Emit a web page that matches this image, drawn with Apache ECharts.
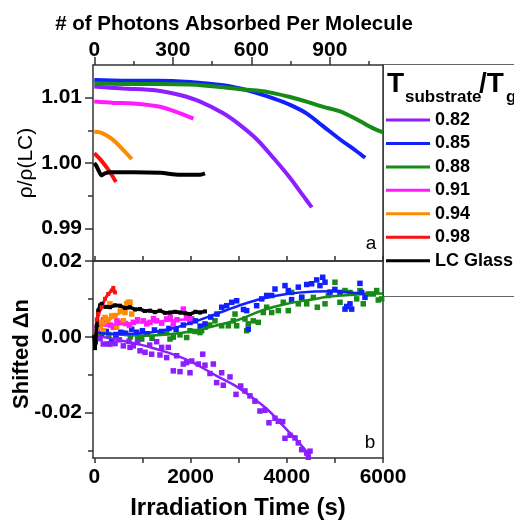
<!DOCTYPE html>
<html>
<head>
<meta charset="utf-8">
<script src="https://cdn.jsdelivr.net/npm/echarts@6/dist/echarts.min.js"></script>
<style>
  html, body { margin: 0; padding: 0; background: #fff; }
  #chart { width: 514px; height: 521px; }
</style>
</head>
<body>
<div id="chart"></div>
<script>
// legend names, one per substrate temperature
const names = ['0.82', '0.85', '0.88', '0.91', '0.94', '0.98', 'LC Glass']
const colors = ['#8c1eff', '#1020ff', '#178a17', '#ff1aff', '#ff8c00', '#ff1010', '#000000']

// tick values
const timeTicks = [0, 1000, 2000, 3000, 4000, 5000, 6000]
const timeLabels = [0, 2000, 4000, 6000]
const photonLabels = [0, 300, 600, 900]
const photonMinor = [150, 450, 750, 1050]
const rhoLabels = [0.99, 1.00, 1.01]
const rhoMinor = [0.995, 1.005]
const dnLabels = [-0.02, 0, 0.02]
const dnMinor = [-0.03, -0.01, 0.01]

// panel a: rho/rho(LC) vs irradiation time (s)
const rho082 = [[0, 1.0117], [600, 1.0114], [1300, 1.0111], [1780, 1.0104], [2200, 1.0094], [2680, 1.0076], [3030, 1.0058], [3380, 1.0036], [3720, 1.0008], [4070, 0.9977], [4340, 0.9950], [4520, 0.9932]]
const rho085 = [[0, 1.0127], [600, 1.0126], [1300, 1.0126], [1990, 1.0124], [2680, 1.0119], [3030, 1.0114], [3380, 1.0107], [3720, 1.0099], [4070, 1.0089], [4410, 1.0076], [4760, 1.0056], [5110, 1.0036], [5450, 1.0018], [5630, 1.0008]]
const rho088 = [[0, 1.0122], [600, 1.0121], [1300, 1.0121], [1990, 1.0120], [2680, 1.0116], [3030, 1.0113], [3380, 1.0111], [3720, 1.0107], [4070, 1.0101], [4410, 1.0094], [4760, 1.0086], [5110, 1.0079], [5450, 1.0067], [5800, 1.0053], [6000, 1.0047]]
const rho091 = [[0, 1.0094], [400, 1.0092], [810, 1.0091], [1370, 1.0086], [1780, 1.0076], [2060, 1.0068]]
const rho094 = [[0, 1.0048], [120, 1.0047], [260, 1.0042], [430, 1.0033], [600, 1.0020], [780, 1.0006]]
const rho098 = [[0, 1.0015], [120, 1.0006], [260, 0.9993], [360, 0.9982], [450, 0.9971]]
const rhoLC = [[0, 1.0000], [40, 0.9996], [80, 0.9990], [150, 0.9981], [220, 0.9984], [330, 0.9986], [810, 0.9986], [1370, 0.9985], [1780, 0.9982], [2200, 0.9982], [2300, 0.9984]]

// panel b: shifted delta n, measured points
const dn082 = [[120, -0.0005], [187, -0.0019], [291, -0.0019], [326, -0.0019], [430, -0.0018], [520, -0.0008], [603, -0.0024], [720, -0.0012], [742, -0.0028], [810, -0.0024], [900, -0.0015], [950, -0.0037], [1054, -0.0041], [1150, -0.0022], [1192, -0.0046], [1296, -0.0013], [1365, -0.0048], [1400, -0.0028], [1504, -0.0055], [1538, -0.0028], [1642, -0.0090], [1712, -0.0050], [1781, -0.0092], [1850, -0.0072], [1920, -0.0068], [1989, -0.0095], [2024, -0.0064], [2161, -0.0072], [2253, -0.0046], [2300, -0.0075], [2404, -0.0097], [2474, -0.0072], [2543, -0.0121], [2647, -0.0095], [2681, -0.0128], [2820, -0.0106], [2945, -0.0152], [3042, -0.0130], [3131, -0.0143], [3235, -0.0156], [3339, -0.0170], [3443, -0.0196], [3547, -0.0194], [3630, -0.0227], [3755, -0.0215], [3824, -0.0223], [3915, -0.0224], [3963, -0.0268], [4067, -0.0260], [4171, -0.0267], [4240, -0.0280], [4310, -0.0298], [4414, -0.0307], [4448, -0.0318], [4483, -0.0302]]
const dn085 = [[60, 0.0012], [150, 0.0008], [250, 0.0014], [361, -0.0011], [450, 0.0006], [550, 0.0012], [650, 0.0009], [777, 0.0020], [880, 0.0012], [1000, 0.0016], [1100, 0.0008], [1250, 0.0018], [1400, 0.0014], [1550, 0.0022], [1700, 0.0019], [1850, 0.0031], [1989, 0.0038], [2100, 0.0042], [2200, 0.0028], [2300, 0.0034], [2420, 0.0052], [2550, 0.0060], [2647, 0.0078], [2751, 0.0082], [2855, 0.0091], [2959, 0.0095], [3100, 0.0072], [3167, 0.0069], [3200, 0.0020], [3375, 0.0082], [3479, 0.0100], [3582, 0.0109], [3686, 0.0109], [3755, 0.0126], [3963, 0.0135], [4032, 0.0122], [4100, 0.0098], [4240, 0.0131], [4310, 0.0104], [4414, 0.0138], [4518, 0.0140], [4622, 0.0150], [4690, 0.0135], [4747, 0.0157], [4795, 0.0144], [4900, 0.0118], [5000, 0.0125], [5106, 0.0117], [5210, 0.0073], [5245, 0.0080], [5314, 0.0087], [5349, 0.0073], [5521, 0.0141], [5557, 0.0117], [5626, 0.0104]]
const dn088 = [[50, 0.0012], [150, 0.0008], [300, 0.0006], [450, 0.0003], [600, 0.0010], [750, 0.0000], [900, -0.0006], [985, -0.0006], [1100, 0.0008], [1200, -0.0004], [1365, 0.0011], [1504, 0.0011], [1573, -0.0006], [1642, -0.0001], [1781, 0.0005], [1920, -0.0002], [1989, 0.0016], [2024, 0.0047], [2093, 0.0014], [2196, 0.0011], [2231, 0.0016], [2300, 0.0025], [2400, 0.0031], [2508, 0.0042], [2647, 0.0029], [2786, 0.0029], [2890, 0.0042], [2924, 0.0060], [2959, 0.0029], [3131, 0.0047], [3167, 0.0016], [3200, 0.0034], [3304, 0.0042], [3408, 0.0038], [3512, 0.0064], [3582, 0.0078], [3686, 0.0064], [3824, 0.0069], [3928, 0.0091], [4032, 0.0069], [4102, 0.0117], [4240, 0.0087], [4310, 0.0104], [4414, 0.0087], [4552, 0.0104], [4635, 0.0078], [4795, 0.0087], [4864, 0.0109], [5002, 0.0144], [5106, 0.0091], [5210, 0.0122], [5314, 0.0117], [5453, 0.0100], [5521, 0.0122], [5590, 0.0087], [5694, 0.0113], [5798, 0.0113], [5868, 0.0122], [5902, 0.0097], [5972, 0.0100]]
const dn091 = [[60, 0.0022], [120, 0.0031], [190, 0.0045], [257, 0.0034], [330, 0.0031], [395, 0.0025], [470, 0.0042], [569, 0.0038], [650, 0.0035], [730, 0.0030], [810, 0.0038], [900, 0.0045], [1019, 0.0042], [1090, 0.0034], [1157, 0.0038], [1230, 0.0048], [1296, 0.0042], [1400, 0.0036], [1504, 0.0047], [1580, 0.0052], [1642, 0.0034], [1720, 0.0045], [1850, 0.0073], [1920, 0.0050], [1989, 0.0047]]
const dn094 = [[50, 0.0008], [110, 0.0030], [153, 0.0038], [187, 0.0016], [222, 0.0051], [280, 0.0045], [326, 0.0087], [360, 0.0055], [430, 0.0056], [465, 0.0025], [540, 0.0068], [603, 0.0042], [638, 0.0064], [673, 0.0087], [707, 0.0091], [742, 0.0091], [777, 0.0060]]
const dn098 = [[50, 0.0045], [83, 0.0060], [153, 0.0078], [222, 0.0100], [291, 0.0113], [361, 0.0122], [395, 0.0129], [430, 0.0117]]
const dnLC = [[0, 0.0000], [14, -0.0030], [30, -0.0015], [50, 0.0030], [83, 0.0069], [120, 0.0083], [153, 0.0087], [240, 0.0079], [326, 0.0078], [430, 0.0083], [534, 0.0082], [640, 0.0076], [742, 0.0078], [850, 0.0072], [950, 0.0073], [1050, 0.0068], [1157, 0.0069], [1260, 0.0065], [1365, 0.0069], [1470, 0.0063], [1573, 0.0064], [1680, 0.0066], [1781, 0.0064], [1890, 0.0062], [1989, 0.0060], [2100, 0.0066], [2196, 0.0064], [2300, 0.0067]]

// panel b: fit curves
const fit082 = [[0, 0.0003], [300, -0.0003], [600, -0.0011], [1000, -0.0022], [1300, -0.0033], [1650, -0.0047], [2000, -0.0065], [2540, -0.0103], [2900, -0.0127], [3235, -0.0156], [3600, -0.0192], [3930, -0.0236], [4200, -0.0272], [4480, -0.0313]]
const fit085 = [[0, 0.0011], [300, 0.0008], [600, 0.0007], [1000, 0.0009], [1300, 0.0014], [1650, 0.0023], [2000, 0.0036], [2350, 0.0052], [2700, 0.0068], [3000, 0.0082], [3500, 0.0101], [4000, 0.0113], [4500, 0.0119], [4900, 0.0120], [5300, 0.0117], [5630, 0.0113]]
const fit088 = [[0, 0.0010], [300, 0.0007], [600, 0.0005], [1000, 0.0003], [1300, 0.0004], [1650, 0.0008], [2000, 0.0014], [2350, 0.0024], [2700, 0.0035], [3000, 0.0045], [3500, 0.0070], [4000, 0.0087], [4500, 0.0098], [4900, 0.0106], [5300, 0.0110], [5600, 0.0113], [6000, 0.0114]]
const fit091 = [[0, 0.0026], [300, 0.0031], [700, 0.0035], [1000, 0.0038], [1400, 0.0041], [2000, 0.0047]]
const fit094 = [[0, 0.0012], [200, 0.0032], [400, 0.0052], [600, 0.0067], [780, 0.0078]]

const FONT = 'Liberation Sans'
const AXIS_COLOR = '#333'
const lbl = { color: '#000', fontSize: 21, fontWeight: 'bold', fontFamily: FONT }
const fmt2 = function (v) { return Number(v).toFixed(2) }
const fmtInt = function (v) { return String(Math.round(v)) }

function axis (opt) {
  return Object.assign({
    type: 'value',
    axisLine: { show: true, onZero: false, lineStyle: { color: AXIS_COLOR, width: 1.5 } },
    axisTick: { show: false },
    axisLabel: { show: false },
    splitLine: { show: false }
  }, opt)
}
const tick = function (vals, len, inside) {
  return { show: true, inside: !!inside, length: len, customValues: vals, lineStyle: { color: AXIS_COLOR, width: 1.5 } }
}
const noLine = { show: false, onZero: false }

const chart = echarts.init(document.getElementById('chart'))

const rhoSets = [rho082, rho085, rho088, rho091, rho094, rho098, rhoLC]
const series = []
rhoSets.forEach(function (d, i) {
  series.push({
    name: names[i], type: 'line', xAxisIndex: 0, yAxisIndex: 0, data: d,
    showSymbol: false, smooth: 0.3, color: colors[i],
    lineStyle: { width: 4, color: colors[i] }
  })
})

function scatter (name, i, d) {
  series.push({
    name: name, type: 'scatter', xAxisIndex: 3, yAxisIndex: 3, data: d,
    symbol: 'rect', symbolSize: 5.5, itemStyle: { color: colors[i], opacity: 1 }
  })
}
function fit (name, i, d) {
  series.push({
    name: name, type: 'line', xAxisIndex: 3, yAxisIndex: 3, data: d,
    showSymbol: false, smooth: 0.4, lineStyle: { width: 2.5, color: colors[i] }
  })
}
scatter('0.88', 2, dn088); fit('0.88', 2, fit088)
scatter('0.85', 1, dn085); fit('0.85', 1, fit085)
scatter('0.82', 0, dn082); fit('0.82', 0, fit082)
scatter('0.91', 3, dn091); fit('0.91', 3, fit091)
scatter('0.94', 4, dn094); fit('0.94', 4, fit094)
series.push({
  name: 'LC Glass', type: 'line', xAxisIndex: 3, yAxisIndex: 3, data: dnLC,
  symbol: 'rect', symbolSize: 4, showSymbol: true,
  itemStyle: { color: colors[6] }, lineStyle: { width: 3.5, color: colors[6] }
})
series.push({
  name: '0.98', type: 'line', xAxisIndex: 3, yAxisIndex: 3, data: dn098,
  symbol: 'rect', symbolSize: 4, showSymbol: true,
  itemStyle: { color: colors[5] }, lineStyle: { width: 3, color: colors[5] }
})

function txt (x, y, text, size, weight, extra) {
  return Object.assign({
    type: 'text', x: x, y: y,
    style: { text: text, fontSize: size, fontWeight: weight, fontFamily: FONT, fill: '#000', align: 'center', verticalAlign: 'middle' }
  }, extra || {})
}
function txtL (x, y, text, size) {
  return { type: 'text', x: x, y: y, style: { text: text, fontSize: size, fontWeight: 'bold', fontFamily: FONT, fill: '#000', align: 'left', verticalAlign: 'middle' } }
}

const option = {
  animation: false,
  backgroundColor: '#fff',
  grid: [
    { left: 93, top: 65, width: 290, height: 196 },
    { left: 93, top: 261, width: 290, height: 197 }
  ],
  xAxis: [
    axis({ gridIndex: 0, position: 'bottom', min: -27, max: 6000, axisTick: tick(timeTicks, 5, true) }),
    axis({ gridIndex: 0, position: 'top', min: -5, max: 1103, axisTick: tick(photonLabels, 8),
      axisLabel: Object.assign({ show: true, customValues: photonLabels, margin: 4, formatter: fmtInt }, lbl) }),
    axis({ gridIndex: 0, position: 'top', min: -5, max: 1103, axisLine: noLine, axisTick: tick(photonMinor, 4) }),
    axis({ gridIndex: 1, position: 'bottom', min: -27, max: 6000, axisTick: tick(timeTicks, 5),
      axisLabel: Object.assign({ show: true, customValues: timeLabels, margin: 9, formatter: fmtInt }, lbl) }),
    axis({ gridIndex: 1, position: 'top', min: -27, max: 6000, axisTick: tick(timeTicks, 5) })
  ],
  yAxis: [
    axis({ gridIndex: 0, position: 'left', min: 0.985, max: 1.015, axisTick: tick(rhoLabels, 8),
      axisLabel: Object.assign({ show: true, customValues: rhoLabels, margin: 11, formatter: fmt2 }, lbl) }),
    axis({ gridIndex: 0, position: 'left', min: 0.985, max: 1.015, axisLine: noLine, axisTick: tick(rhoMinor, 5) }),
    axis({ gridIndex: 0, position: 'right', min: 0.985, max: 1.015 }),
    axis({ gridIndex: 1, position: 'left', min: -0.032, max: 0.02, axisTick: tick(dnLabels, 8),
      axisLabel: Object.assign({ show: true, customValues: dnLabels, margin: 11, formatter: fmt2 }, lbl) }),
    axis({ gridIndex: 1, position: 'left', min: -0.032, max: 0.02, axisLine: noLine, axisTick: tick(dnMinor, 5) }),
    axis({ gridIndex: 1, position: 'right', min: -0.032, max: 0.02 })
  ],
  legend: {
    data: names,
    orient: 'vertical',
    left: 386,
    top: 110,
    padding: 0,
    icon: 'rect',
    itemWidth: 44,
    itemHeight: 3,
    itemGap: 3.45,
    selectedMode: false,
    textStyle: { fontSize: 18, fontWeight: 'bold', fontFamily: FONT, color: '#000', lineHeight: 20 }
  },
  graphic: [
    { type: 'rect', shape: { x: 383.5, y: 64.5, width: 140, height: 232 }, style: { fill: 'none', stroke: '#666', lineWidth: 1 }, z: -1 },
    txt(234, 24, '# of Photons Absorbed Per Molecule', 20.5, 'bold'),
    txt(238, 508, 'Irradiation Time (s)', 24, 'bold'),
    txt(26, 163, 'ρ/ρ(LC)', 21, 'normal', { rotation: Math.PI / 2 }),
    txt(22, 354, 'Shifted Δn', 22, 'bold', { rotation: Math.PI / 2 }),
    txt(371, 244, 'a', 19, 'normal'),
    txt(370, 443, 'b', 19, 'normal'),
    txtL(387, 84, 'T', 28),
    txtL(405, 97, 'substrate', 17),
    txtL(479, 84, '/T', 28),
    txtL(506, 97, 'g', 17)
  ],
  series: series
}
chart.setOption(option)
</script>
</body>
</html>
